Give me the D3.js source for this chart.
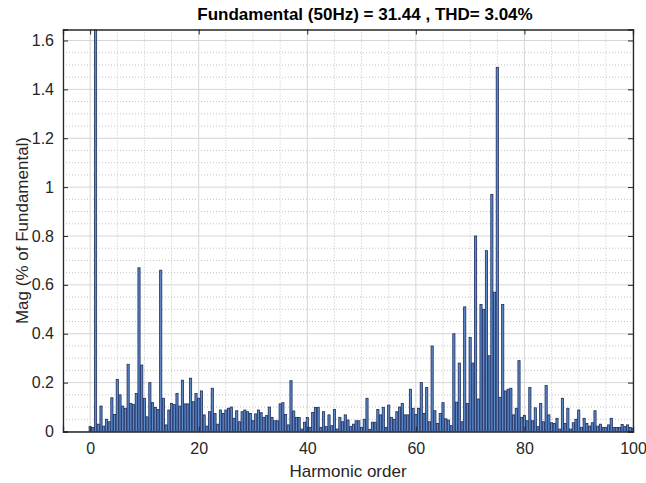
<!DOCTYPE html>
<html>
<head>
<meta charset="utf-8">
<script src="https://cdn.jsdelivr.net/npm/d3@7"></script>
<style>
  body { margin: 0; background: #fff; }
  svg { display: block; font-family: "Liberation Sans", Arial, sans-serif; }
</style>
</head>
<body>
<svg id="chart"></svg>
<script>
// harmonic orders (0 .. 100, half steps)
const orders = [
  0, 0.5, 1, 1.5, 2, 2.5, 3, 3.5, 4, 4.5, 5, 5.5, 6, 6.5, 7, 7.5, 8, 8.5, 9, 9.5,
  10, 10.5, 11, 11.5, 12, 12.5, 13, 13.5, 14, 14.5, 15, 15.5, 16, 16.5, 17, 17.5, 18, 18.5, 19, 19.5,
  20, 20.5, 21, 21.5, 22, 22.5, 23, 23.5, 24, 24.5, 25, 25.5, 26, 26.5, 27, 27.5, 28, 28.5, 29, 29.5,
  30, 30.5, 31, 31.5, 32, 32.5, 33, 33.5, 34, 34.5, 35, 35.5, 36, 36.5, 37, 37.5, 38, 38.5, 39, 39.5,
  40, 40.5, 41, 41.5, 42, 42.5, 43, 43.5, 44, 44.5, 45, 45.5, 46, 46.5, 47, 47.5, 48, 48.5, 49, 49.5,
  50, 50.5, 51, 51.5, 52, 52.5, 53, 53.5, 54, 54.5, 55, 55.5, 56, 56.5, 57, 57.5, 58, 58.5, 59, 59.5,
  60, 60.5, 61, 61.5, 62, 62.5, 63, 63.5, 64, 64.5, 65, 65.5, 66, 66.5, 67, 67.5, 68, 68.5, 69, 69.5,
  70, 70.5, 71, 71.5, 72, 72.5, 73, 73.5, 74, 74.5, 75, 75.5, 76, 76.5, 77, 77.5, 78, 78.5, 79, 79.5,
  80, 80.5, 81, 81.5, 82, 82.5, 83, 83.5, 84, 84.5, 85, 85.5, 86, 86.5, 87, 87.5, 88, 88.5, 89, 89.5,
  90, 90.5, 91, 91.5, 92, 92.5, 93, 93.5, 94, 94.5, 95, 95.5, 96, 96.5, 97, 97.5, 98, 98.5, 99, 99.5,
  100
]

// magnitude in % of fundamental
const mags = [
  0.02, 0.016, 100, 0.03, 0.104, 0.022, 0.05, 0.04, 0.138, 0.07, 0.213, 0.15, 0.104, 0.095, 0.275, 0.115, 0.11, 0.156, 0.67, 0.272,
  0.136, 0.06, 0.2, 0.118, 0.099, 0.09, 0.66, 0.136, 0.027, 0.088, 0.115, 0.11, 0.156, 0.104, 0.21, 0.113, 0.113, 0.218, 0.122, 0.156,
  0.136, 0.166, 0.068, 0.022, 0.081, 0.177, 0.074, 0.03, 0.088, 0.074, 0.088, 0.095, 0.1, 0.054, 0.085, 0.04, 0.081, 0.088, 0.081, 0.074,
  0.044, 0.072, 0.088, 0.077, 0.058, 0.065, 0.1, 0.058, 0.044, 0.044, 0.113, 0.118, 0.07, 0.027, 0.208, 0.084, 0.057, 0.057, 0.01, 0.038,
  0.057, 0.017, 0.078, 0.098, 0.099, 0.017, 0.081, 0.02, 0.068, 0.024, 0.09, 0.01, 0.058, 0.04, 0.068, 0.047, 0.02, 0.03, 0.044, 0.044,
  0.016, 0.05, 0.136, 0.009, 0.038, 0.038, 0.09, 0.068, 0.099, 0.017, 0.108, 0.058, 0.05, 0.081, 0.1, 0.115, 0.068, 0.068, 0.173, 0.095,
  0.07, 0.095, 0.2, 0.074, 0.18, 0.04, 0.35, 0.085, 0.033, 0.074, 0.118, 0.052, 0.047, 0.024, 0.4, 0.12, 0.28, 0.04, 0.51, 0.115,
  0.385, 0.28, 0.8, 0.133, 0.52, 0.5, 0.74, 0.31, 0.97, 0.57, 1.49, 0.14, 0.52, 0.166, 0.173, 0.177, 0.068, 0.095, 0.29, 0.058,
  0.066, 0.044, 0.18, 0.044, 0.097, 0.02, 0.115, 0.04, 0.188, 0.068, 0.036, 0.033, 0.054, 0.01, 0.136, 0.033, 0.095, 0.01, 0.036, 0.05,
  0.088, 0.017, 0.054, 0.033, 0.022, 0.036, 0.085, 0.022, 0.03, 0.017, 0.016, 0.027, 0.054, 0.016, 0.016, 0.016, 0.029, 0.02, 0.027, 0.016,
  0.012
]

const xTicks = [0, 20, 40, 60, 80, 100]
const yTicks = [0, 0.2, 0.4, 0.6, 0.8, 1, 1.2, 1.4, 1.6]
const yTickLabels = ["0", "0.2", "0.4", "0.6", "0.8", "1", "1.2", "1.4", "1.6"]
const xMinor = [-5, 5, 10, 15, 25, 30, 35, 45, 50, 55, 65, 70, 75, 85, 90, 95]
const yMinor = [0.05, 0.1, 0.15, 0.25, 0.3, 0.35, 0.45, 0.5, 0.55, 0.65, 0.7, 0.75, 0.85, 0.9, 0.95,
  1.05, 1.1, 1.15, 1.25, 1.3, 1.35, 1.45, 1.5, 1.55]

const titleText = "Fundamental (50Hz) = 31.44 , THD= 3.04%"

const width = 646
const height = 483
const margin = { top: 29.5, right: 13, bottom: 51.5, left: 63 }
const innerWidth = width - margin.left - margin.right
const innerHeight = height - margin.top - margin.bottom

const svg = d3.select('#chart')
  .attr('width', width)
  .attr('height', height)

svg.append('rect').attr('width', width).attr('height', height).attr('fill', '#fff')

const x = d3.scaleLinear().domain([-5, 100]).range([0, innerWidth])
const y = d3.scaleLinear().domain([0, 1.645]).range([innerHeight, 0])

const g = svg.append('g').attr('transform', `translate(${margin.left},${margin.top})`)

svg.append('defs').append('clipPath').attr('id', 'clip')
  .append('rect').attr('width', innerWidth).attr('height', innerHeight)

// minor grid (dotted)
g.append('g').selectAll('line').data(xMinor).enter().append('line')
  .attr('x1', d => x(d)).attr('x2', d => x(d))
  .attr('y1', 0).attr('y2', innerHeight)
  .attr('stroke', '#c4c4c4').attr('stroke-width', 1).attr('stroke-dasharray', '1,2')
g.append('g').selectAll('line').data(yMinor).enter().append('line')
  .attr('y1', d => y(d)).attr('y2', d => y(d))
  .attr('x1', 0).attr('x2', innerWidth)
  .attr('stroke', '#c4c4c4').attr('stroke-width', 1).attr('stroke-dasharray', '1,2')

// major grid
g.append('g').selectAll('line').data(xTicks).enter().append('line')
  .attr('x1', d => x(d)).attr('x2', d => x(d))
  .attr('y1', 0).attr('y2', innerHeight)
  .attr('stroke', '#d6d6d6').attr('stroke-width', 1)
g.append('g').selectAll('line').data(yTicks).enter().append('line')
  .attr('y1', d => y(d)).attr('y2', d => y(d))
  .attr('x1', 0).attr('x2', innerWidth)
  .attr('stroke', '#d6d6d6').attr('stroke-width', 1)

// bars
const barW = x(0.4) - x(0)
g.append('g').attr('clip-path', 'url(#clip)')
  .selectAll('rect').data(orders).enter().append('rect')
  .attr('x', d => x(d) - barW / 2)
  .attr('width', barW)
  .attr('y', (d, i) => y(Math.min(mags[i], 2)))
  .attr('height', (d, i) => innerHeight - y(Math.min(mags[i], 2)))
  .attr('fill', '#5d8ac8')
  .attr('stroke', '#1a2b5e')
  .attr('stroke-width', 0.8)

// axes (MATLAB style, ticks inward, box)
const tickLen = 5
const xAxisB = d3.axisBottom(x).tickValues(xTicks).tickSize(-tickLen).tickPadding(11).tickFormat(d3.format('d'))
const xAxisT = d3.axisTop(x).tickValues(xTicks).tickSize(-tickLen).tickFormat('')
const yAxisL = d3.axisLeft(y).tickValues(yTicks).tickSize(-tickLen).tickPadding(9).tickFormat((d, i) => yTickLabels[i])
const yAxisR = d3.axisRight(y).tickValues(yTicks).tickSize(-tickLen).tickFormat('')

function style(sel) {
  sel.selectAll('path').attr('stroke', '#262626').attr('stroke-width', 1.3)
  sel.selectAll('line').attr('stroke', '#262626').attr('stroke-width', 1)
  sel.selectAll('text').attr('fill', '#262626').style('font-size', '16px')
    .style('font-family', '"Liberation Sans", Arial, sans-serif')
}

g.append('g').attr('transform', `translate(0,${innerHeight})`).call(xAxisB).call(style)
g.append('g').call(xAxisT).call(style)
g.append('g').call(yAxisL).call(style)
g.append('g').attr('transform', `translate(${innerWidth},0)`).call(yAxisR).call(style)

// title and labels
svg.append('text')
  .attr('x', 365)
  .attr('y', 20)
  .attr('text-anchor', 'middle')
  .style('font-weight', 'bold')
  .style('font-size', '17px')
  .attr('fill', '#000')
  .text(titleText)

svg.append('text')
  .attr('x', margin.left + innerWidth / 2)
  .attr('y', 477)
  .attr('text-anchor', 'middle')
  .style('font-size', '17px')
  .attr('fill', '#262626')
  .text('Harmonic order')

svg.append('text')
  .attr('transform', `translate(28,${margin.top + innerHeight / 2}) rotate(-90)`)
  .attr('text-anchor', 'middle')
  .style('font-size', '17px')
  .attr('fill', '#262626')
  .text('Mag (% of Fundamental)')
</script>
</body>
</html>
